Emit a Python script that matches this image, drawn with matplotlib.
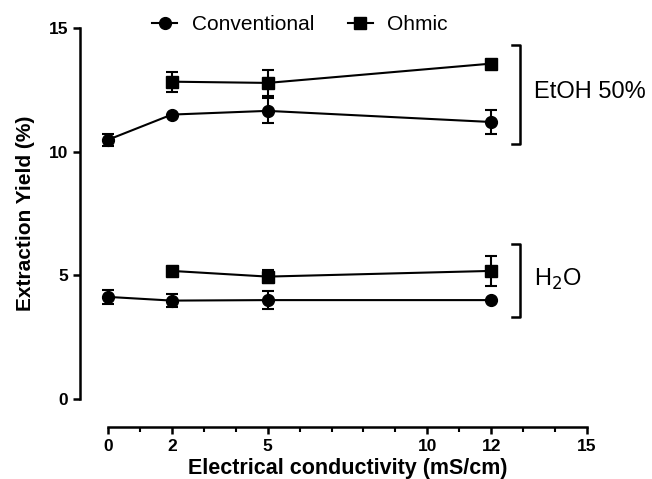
import numpy as np
import matplotlib
matplotlib.use("Agg")
import matplotlib.pyplot as plt
from matplotlib.lines import Line2D
from matplotlib.ticker import MultipleLocator

plt.rcParams["font.family"] = ["Liberation Sans", "DejaVu Sans"]

# EtOH 50% series
conc_conv = [0, 2, 5, 12]
etoh_conv = [10.48, 11.5, 11.65, 11.2]
etoh_conv_err = [0.25, 0.0, 0.5, 0.48]
conc_ohm = [2, 5, 12]
etoh_ohm = [12.83, 12.78, 13.56]
etoh_ohm_err = [0.4, 0.52, 0.15]

# H2O series
h2o_conv = [4.13, 3.98, 4.0, 4.0]
h2o_conv_err = [0.28, 0.26, 0.36, 0.0]
h2o_ohm = [5.18, 4.95, 5.18]
h2o_ohm_err = [0.1, 0.27, 0.6]

x_ticks = [0, 2, 5, 10, 12, 15]
y_ticks = [0, 5, 10, 15]

MS = 8.5
LW = 1.5


def series(ax, x, y, err, marker):
    ax.errorbar(x, y, yerr=err, color="black", marker=marker, markersize=MS,
                linewidth=LW, elinewidth=LW, capsize=4.5, capthick=LW,
                clip_on=False)


def bracket(ax, x, y0, y1, text, ypos):
    ax.plot([x - 0.25, x, x, x - 0.25], [y1, y1, y0, y0], color="black",
            linewidth=1.8, clip_on=False)
    ax.text(x + 0.45, ypos, text, fontsize=17, va="center", ha="left")


fig = plt.figure(figsize=(6.52, 4.79), dpi=100)
ax = fig.add_axes([80 / 652, 52 / 479, 507 / 652, 399 / 479])

series(ax, conc_conv, etoh_conv, etoh_conv_err, "o")
series(ax, conc_ohm, etoh_ohm, etoh_ohm_err, "s")
series(ax, conc_conv, h2o_conv, h2o_conv_err, "o")
series(ax, conc_ohm, h2o_ohm, h2o_ohm_err, "s")

bracket(ax, 12.9, 10.3, 14.3, "EtOH 50%", 12.4)
bracket(ax, 12.9, 3.3, 6.25, "H$_2$O", 4.85)

xmin, xmax = -0.875, 15
ymin, ymax = -1.13, 15
ax.set_xlim(xmin, xmax)
ax.set_ylim(ymin, ymax)
ax.spines["top"].set_visible(False)
ax.spines["right"].set_visible(False)
ax.spines["left"].set_bounds(0, 15)
ax.spines["bottom"].set_bounds(0, 15)
ax.spines["left"].set_linewidth(1.8)
ax.spines["bottom"].set_linewidth(1.8)

ax.set_xticks(x_ticks)
ax.set_yticks(y_ticks)
ax.xaxis.set_minor_locator(MultipleLocator(1))
ax.tick_params(axis="both", which="major", length=5, width=1.8, labelsize=12.5)
ax.tick_params(axis="x", which="minor", length=3.5, width=1.5)
for lbl in ax.get_xticklabels() + ax.get_yticklabels():
    lbl.set_fontweight("bold")

# labels centred on the spines, not on the whole axes box
ax.set_xlabel("Electrical conductivity (mS/cm)", fontsize=15.5, fontweight="bold")
ax.set_ylabel("Extraction Yield (%)", fontsize=15, fontweight="bold")
ax.xaxis.set_label_coords((7.5 - xmin) / (xmax - xmin), -0.077)
ax.yaxis.set_label_coords(-0.088, (7.5 - ymin) / (ymax - ymin))

handles = [Line2D([], [], color="black", marker="o", markersize=MS, linewidth=LW),
           Line2D([], [], color="black", marker="s", markersize=MS, linewidth=LW)]
fig.legend(handles, ["Conventional", "Ohmic"], loc="center",
           bbox_to_anchor=(0.46, 0.948), ncol=2, frameon=False, fontsize=15,
           handlelength=1.2, columnspacing=1.6, handletextpad=0.7)

fig.savefig("out.png", dpi=100)
